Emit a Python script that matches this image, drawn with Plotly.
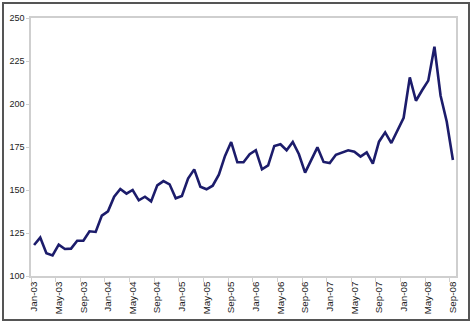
import plotly.graph_objects as go

months = ["Jan","Feb","Mar","Apr","May","Jun","Jul","Aug","Sep","Oct","Nov","Dec"]
categories = [f"{m}-{y:02d}" for y in range(3, 9) for m in months][:69]

values = [
    118.0, 122.3, 113.2, 112.0, 118.2, 115.7, 115.9, 120.5, 120.5, 126.0, 125.6, 135.1,
    137.6, 146.1, 150.6, 147.9, 150.0, 144.0, 146.1, 143.4, 152.7, 155.2, 153.3, 145.2,
    146.5, 156.6, 162.0, 151.9, 150.4, 152.5, 158.9, 169.8, 177.9, 166.1, 166.1, 170.8,
    173.1, 162.0, 164.3, 175.6, 176.6, 173.1, 177.9, 170.8, 160.1, 167.8, 174.8, 166.3,
    165.7, 170.5, 171.7, 173.1, 172.3, 169.4, 171.9, 165.3, 178.1, 183.5, 177.3, 184.9,
    192.0, 215.5, 201.9, 208.0, 213.6, 233.3, 204.8, 189.7, 167.4,
]

y_ticks = [100, 125, 150, 175, 200, 225, 250]

fig = go.Figure()
fig.add_trace(go.Scatter(
    x=categories, y=values, mode="lines",
    line=dict(color="#1c1c6b", width=2.6),
    hoverinfo="skip",
))

axis_gray = "#cfcfcf"
fig.update_layout(
    width=472, height=323,
    margin=dict(l=31, r=16, t=18, b=47),
    paper_bgcolor="white", plot_bgcolor="white",
    showlegend=False,
    font=dict(family="Liberation Sans, Arial, sans-serif", size=9, color="#222"),
    xaxis=dict(
        type="category", categoryorder="array", categoryarray=categories,
        tickmode="linear", tick0=0, dtick=4,
        tickson="boundaries",
        ticks="outside", ticklen=4, tickcolor=axis_gray, tickwidth=1,
        tickangle=-90, tickfont=dict(size=9.8),
        showgrid=False, zeroline=False, automargin=False,
        showline=True, linecolor=axis_gray, linewidth=1.5, mirror=True,
        range=[-0.5, 68.5],
    ),
    yaxis=dict(
        range=[100, 250], tickvals=y_ticks,
        ticks="outside", ticklen=3, tickcolor=axis_gray, tickwidth=1,
        showgrid=False, zeroline=False, automargin=False,
        showline=True, linecolor=axis_gray, linewidth=1.5, mirror=True,
    ),
    shapes=[dict(
        type="rect", xref="paper", yref="paper",
        x0=(3 - 31) / 425, x1=(469 - 31) / 425,
        y0=(276 - 320) / 258, y1=(276 - 3) / 258,
        line=dict(color="#555555", width=2), layer="below",
    )],
)

fig.write_html("out.html")
